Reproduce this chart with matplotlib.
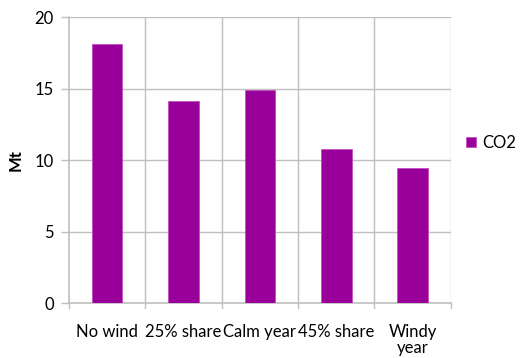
import matplotlib
matplotlib.use("Agg")
import matplotlib.pyplot as plt
import numpy as np

plt.rcParams['font.family'] = ['Lato', 'DejaVu Sans']

categories = ['No wind', '25% share', 'Calm year', '45% share', 'Windy\nyear']
co2 = [18.1, 14.1, 14.9, 10.8, 9.45]
yticks = [0, 5, 10, 15, 20]

grid_col = '#bfbfbf'
bar_col = '#990099'

fig = plt.figure(figsize=(5.23, 3.58), dpi=100)
ax = fig.add_axes([0.132, 0.1536, 0.730, 0.7989])

x = np.arange(len(categories))
ax.bar(x, co2, width=0.4, color=bar_col, edgecolor='#c34fc3', linewidth=0.6,
       label='CO2', zorder=3)

ax.set_xlim(-0.5, len(categories) - 0.5)
ax.set_ylim(0, 20)
ax.set_yticks(yticks)
ax.set_xticks(x)
ax.set_xticklabels(categories, fontsize=12, linespacing=1.05)
ax.tick_params(axis='x', length=0, pad=15)
ax.tick_params(axis='y', length=6, width=1, color=grid_col, labelsize=12, pad=5)

# gridlines: horizontal at ticks, vertical between categories
for yv in yticks[1:]:
    ax.axhline(yv, color=grid_col, lw=1, zorder=1)
for xb in np.arange(0.5, len(categories) - 0.5):
    ax.axvline(xb, color=grid_col, lw=1, zorder=1)
ax.axvline(len(categories) - 0.5, color=grid_col, lw=1, zorder=1)
for xb in np.arange(-0.5, len(categories)):
    ax.plot([xb, xb], [0, -0.35], color=grid_col, lw=1, clip_on=False)

for side in ['top', 'right']:
    ax.spines[side].set_visible(False)
for side in ['left', 'bottom']:
    ax.spines[side].set_color(grid_col)
    ax.spines[side].set_linewidth(1.2)

ax.set_ylabel('Mt', fontsize=12, fontweight='bold', labelpad=8)

ax.legend(loc='center left', bbox_to_anchor=(1.0, 0.56), frameon=False,
          fontsize=12, handlelength=0.6, handleheight=0.6, handletextpad=0.4)

fig.savefig('out.png', dpi=100)
